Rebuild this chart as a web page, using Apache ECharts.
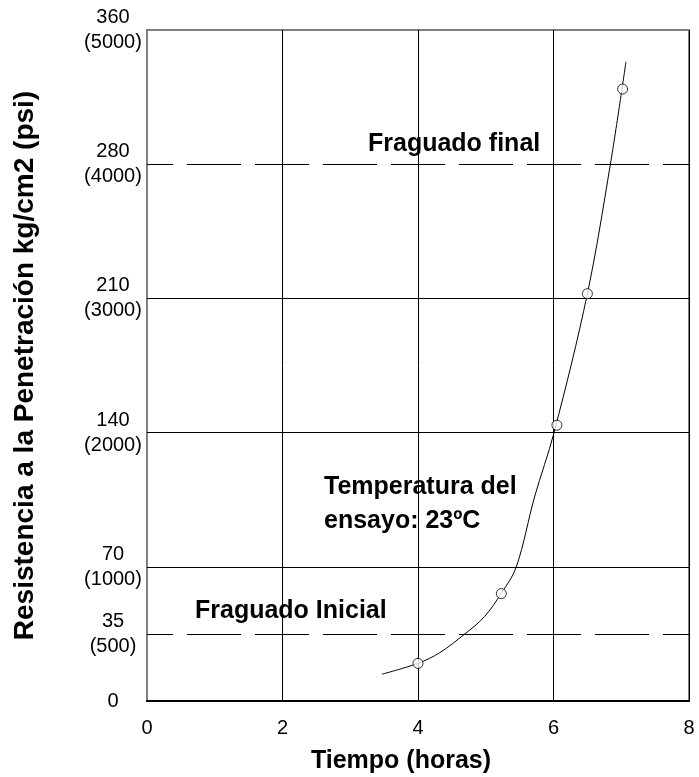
<!DOCTYPE html>
<html>
<head>
<meta charset="utf-8">
<script src="https://cdn.jsdelivr.net/npm/echarts@6/dist/echarts.min.js"></script>
<style>html,body{margin:0;padding:0;background:#fff}#c{width:699px;height:777px}</style>
</head>
<body>
<div id="c"></div>
<script>
// Measured points (time in hours, resistance in psi)
var pointX = [4.0, 5.23, 6.05, 6.5, 7.02];
var pointY = [280, 800, 2055, 3035, 4560];
// Fitted curve
var curveX = [3.47, 4.0, 4.32, 4.69, 4.98, 5.23, 5.45, 5.72, 6.01, 6.5, 6.84, 7.07];
var curveY = [200, 281, 360, 499, 628, 803, 998, 1520, 2004, 3035, 4001, 4764];
// Axis ticks and labels
var xTicks = [0, 2, 4, 6, 8];
var yTickValues = [0, 500, 1000, 2000, 3000, 4000, 5000];
var yTickLabels = ['0', '35\n(500)', '70\n(1000)', '140\n(2000)', '210\n(3000)', '280\n(4000)', '360\n(5000)'];
var solidLines = [1000, 2000, 3000];
var dashedLines = [500, 4000];
var annotations = [
  {text: 'Fraguado final'},
  {text: 'Temperatura del\nensayo: 23ºC'},
  {text: 'Fraguado Inicial'}
];

var FONT = '"Liberation Sans", Arial, sans-serif';
var chart = echarts.init(document.getElementById('c'), null, {renderer: 'canvas'});

var ml = [];
solidLines.forEach(function (v) {
  ml.push({yAxis: v, lineStyle: {type: 'solid', color: '#000', width: 1}});
});
dashedLines.forEach(function (v) {
  ml.push({yAxis: v, lineStyle: {type: [54, 14], dashOffset: 28, color: '#000', width: 1}});
});

var annPos = [
  {left: 368, top: 127},
  {left: 324, top: 470},
  {left: 195, top: 594}
];

chart.setOption({
  animation: false,
  backgroundColor: '#fff',
  grid: {left: 147, right: 10, top: 30, bottom: 76, show: true, borderColor: '#808080', borderWidth: 2,
         containLabel: false, outerBoundsMode: 'none'},
  xAxis: {
    type: 'value', min: 0, max: 8, interval: 2,
    name: 'Tiempo (horas)', nameLocation: 'middle', nameGap: 48,
    nameTextStyle: {fontFamily: FONT, fontWeight: 'bold', fontSize: 25, color: '#000', padding: [0, 34, 0, 0]},
    axisLine: {show: true, lineStyle: {color: '#000', width: 2}},
    axisTick: {show: false},
    axisLabel: {fontFamily: FONT, fontSize: 20, color: '#000', margin: 17},
    splitLine: {show: true, lineStyle: {color: '#000', width: 1}}
  },
  yAxis: {
    type: 'value', min: 0, max: 5000, interval: 500,
    name: 'Resistencia a la Penetración kg/cm2 (psi)', nameLocation: 'middle', nameGap: 108,
    nameTextStyle: {fontFamily: FONT, fontWeight: 'bold', fontSize: 28, color: '#000'},
    axisLine: {show: true, lineStyle: {color: '#808080', width: 2}},
    axisTick: {show: false},
    axisLabel: {
      fontFamily: FONT, fontSize: 20, color: '#000', margin: 34, align: 'center', lineHeight: 25,
      formatter: function (v) {
        var i = yTickValues.indexOf(v);
        return i >= 0 ? yTickLabels[i] : '';
      }
    },
    splitLine: {show: false}
  },
  series: [
    {
      type: 'line', smooth: 0.35, showSymbol: false, symbol: 'none',
      data: curveX.map(function (x, i) { return [x, curveY[i]]; }),
      lineStyle: {color: '#000', width: 1},
      silent: true,
      markLine: {silent: true, symbol: 'none', label: {show: false}, data: ml}
    },
    {
      type: 'scatter', symbol: 'circle', symbolSize: 10,
      data: pointX.map(function (x, i) { return [x, pointY[i]]; }),
      itemStyle: {color: '#fff', borderColor: '#000', borderWidth: 1},
      z: 5
    }
  ],
  graphic: annotations.map(function (a, i) {
    return {
      type: 'text', left: annPos[i].left, top: annPos[i].top, z: 10,
      style: {text: a.text, font: 'bold 25px ' + FONT, fill: '#000', lineHeight: 34}
    };
  })
});
</script>
</body>
</html>
